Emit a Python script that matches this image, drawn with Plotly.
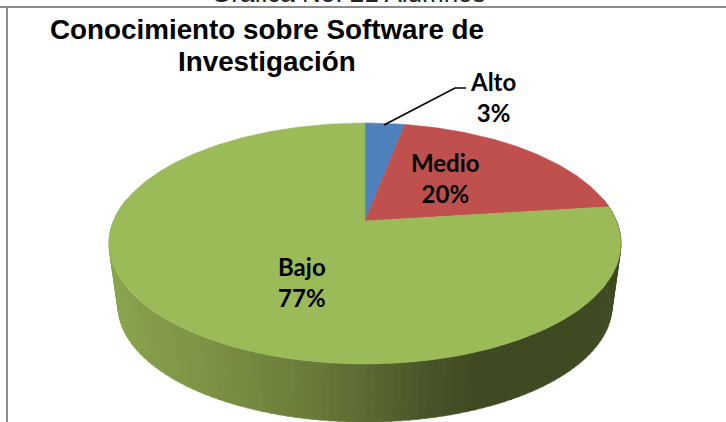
import numpy as np
import plotly.graph_objects as go

categories = ["Alto", "Medio", "Bajo"]
values = [3, 20, 77]
top_colors = ["#4F81BD", "#C0504D", "#9BBB59"]
outer_title = "Gráfica No. 21 Alumnos"
chart_title_lines = ["Conocimiento sobre Software de", "Investigación"]

CX, CY = 365.0, 221.0
RX = 251.5
RY = 116.3
K = 0.1867
DEPTH = 63.0
SHRINK = 0.965


def project(theta, scale=1.0, dy=0.0):
    u, v = np.sin(theta), np.cos(theta)
    w = 1 + K * v
    return CX + scale * RX * u / w, CY + dy - scale * RY * v / w


fig = go.Figure()

# Extruded side of the disc: shaded strips along the visible front rim
stops_x = [109, 200, 300, 365, 430, 480, 620]
stops_r = [139, 126, 108, 92, 72, 63, 63]
stops_g = [165, 148, 126, 107, 84, 74, 74]
stops_b = [78, 70, 60, 50, 40, 35, 35]
edges = np.linspace(np.pi / 2 - 0.2, 3 * np.pi / 2 + 0.2, 121)
for a, b in zip(edges[:-1], edges[1:]):
    t = np.linspace(a - 0.002, b + 0.002, 4)
    x1, y1 = project(t)
    x2, y2 = project(t[::-1], SHRINK, DEPTH)
    mid = (x1.mean() + x2.mean()) / 2
    c = [int(np.interp(mid, stops_x, s)) for s in (stops_r, stops_g, stops_b)]
    col = f"rgb({c[0]},{c[1]},{c[2]})"
    fig.add_trace(go.Scatter(
        x=np.r_[x1, x2, x1[0]], y=np.r_[y1, y2, y1[0]], mode="lines",
        fill="toself", fillcolor=col, line=dict(color=col, width=0.6),
        hoverinfo="skip", showlegend=False))

# Top face slices, clockwise from twelve o'clock
total = sum(values)
cum = 0
for name, val, col in zip(categories, values, top_colors):
    t = np.linspace(cum, cum + val, max(3, int(val * 4))) / total * 2 * np.pi
    px, py = project(t)
    fig.add_trace(go.Scatter(
        x=np.r_[CX, px, CX], y=np.r_[CY, py, CY], mode="lines", fill="toself",
        fillcolor=col, line=dict(color=col, width=0.5), name=name,
        hoverinfo="skip", showlegend=False))
    cum += val

# Leader line for the small slice
fig.add_trace(go.Scatter(
    x=[384, 455, 466], y=[125, 88, 88], mode="lines",
    line=dict(color="black", width=1.6), hoverinfo="skip", showlegend=False))

label_pos = {"Alto": (493, 97), "Medio": (445, 178), "Bajo": (302, 282)}
annotations = []
for name, val in zip(categories, values):
    lx, ly = label_pos[name]
    annotations.append(dict(
        x=lx, y=ly, xref="x", yref="y", showarrow=False, align="center",
        text=f"<b>{name}<br>{val}%</b>",
        font=dict(family="Lato, Carlito, Open Sans", size=24, color="black")))

for line, ly in zip(chart_title_lines, [29, 61]):
    annotations.append(dict(
        x=267, y=ly, xref="x", yref="y", showarrow=False, align="center",
        text=f"<b>{line}</b>",
        font=dict(family="Liberation Sans, Arial", size=27.8, color="black")))
annotations.append(dict(
    x=348, y=10, xref="x", yref="y", showarrow=False, yanchor="bottom",
    text=outer_title,
    font=dict(family="Liberation Sans, Arial", size=26, color="#222222")))

shapes = [
    dict(type="line", xref="x", yref="y", x0=0, x1=726, y0=7, y1=7,
         line=dict(color="#8C8C8C", width=2), layer="above"),
    dict(type="line", xref="x", yref="y", x0=7, x1=7, y0=7, y1=422,
         line=dict(color="#8C8C8C", width=2), layer="above"),
]

fig.update_layout(
    width=726, height=422, margin=dict(l=0, r=0, t=0, b=0),
    paper_bgcolor="white", plot_bgcolor="white",
    xaxis=dict(range=[0, 726], visible=False, fixedrange=True),
    yaxis=dict(range=[422, 0], visible=False, fixedrange=True),
    annotations=annotations, shapes=shapes, showlegend=False)

fig.write_html("out.html", config=dict(displayModeBar=False),
               post_script="document.body.style.margin='0';document.body.style.overflow='hidden';")
